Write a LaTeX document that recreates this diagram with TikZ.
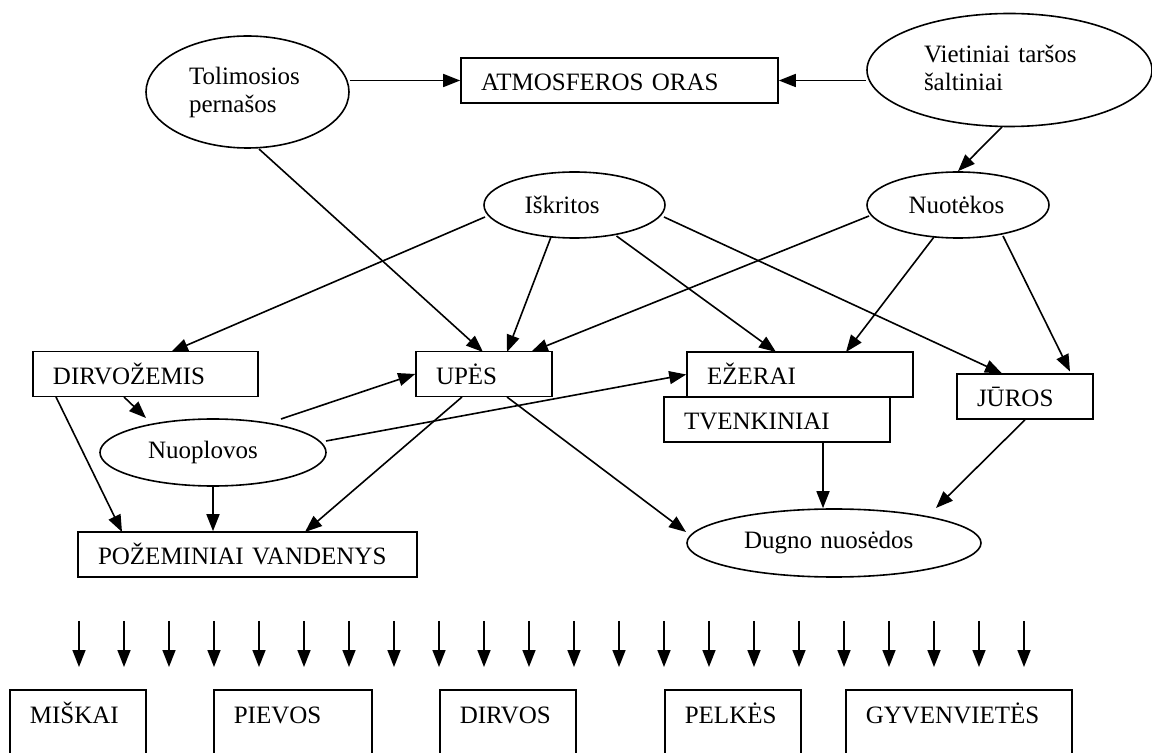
\documentclass[tikz,border=0pt]{standalone}
\usepackage{fontspec}
\setmainfont{Liberation Serif}
\usetikzlibrary{arrows.meta,calc,shapes.geometric}
\begin{document}
\begin{tikzpicture}[x=0.5pt,y=-0.5pt,
  font=\fontsize{12.5}{14}\selectfont,
  arr/.style={line width=0.8pt,-{Triangle[length=8.5pt,width=6.5pt]}},
  box/.style={draw,line width=0.8pt,rectangle,inner xsep=10pt,inner ysep=0pt,
    text height=12pt,text depth=1.5pt,align=left,minimum height=22.5pt},
  ell/.style={draw,line width=0.8pt,ellipse,inner sep=0pt,align=left},
  ground/.style={draw,line width=0.8pt,rectangle,inner xsep=10pt,inner ysep=0pt,
    text height=12pt,text depth=23.5pt,align=left,minimum height=45.5pt,anchor=north west}
]
\useasboundingbox (0,0) rectangle (1152,753);
\clip (0,0) rectangle (1152,753);

% ellipses
\node[ell,minimum width=101.5pt,minimum height=56pt,text width=58.5pt] (tol) at (247.5,92) {Tolimosios\\pernašos};
\node[ell,minimum width=142.5pt,minimum height=56.5pt,text width=85.5pt] (viet) at (1009.5,70) {Vietiniai taršos\\šaltiniai\vphantom{p}};
\node[ell,minimum width=90.5pt,minimum height=33pt,text width=50pt] (isk) at (574.5,205) {Iškritos};
\node[ell,minimum width=91pt,minimum height=33pt,text width=49.5pt] (nuot) at (958,205) {Nuotėkos};
\node[ell,minimum width=113pt,minimum height=33.5pt,text width=65pt] (nuopl) at (213,452.5) {Nuoplovos};
\node[ell,minimum width=147pt,minimum height=34pt,text width=90pt] (dug) at (834,543) {Dugno nuosėdos};

% boxes
\node[box,text width=138.5pt] (atm) at (619.5,80.5) {ATMOSFEROS ORAS};
\node[box,text width=92.5pt] (dirv) at (145.5,374) {DIRVOŽEMIS};
\node[box,text width=48pt] (upes) at (484,374) {UPĖS};
\node[box,text width=93pt] (ez) at (800,374.5) {EŽERAI};
\node[box,text width=93pt] (tv) at (777,419.5) {TVENKINIAI};
\node[box,text width=48pt] (jur) at (1025,396.5) {JŪROS};
\node[box,text width=149.5pt] (poz) at (247.5,554.5) {POŽEMINIAI VANDENYS};

% bottom boxes
\node[ground,text width=48pt] (mis) at (9,689) {MIŠKAI};
\node[ground,text width=59pt] (piev) at (213,689) {PIEVOS};
\node[ground,text width=48pt] (dirvos) at (439,689) {DIRVOS};
\node[ground,text width=48pt] (pelk) at (664,689) {PELKĖS};
\node[ground,text width=93pt] (gyv) at (845,689) {GYVENVIETĖS};

% connectors
\draw[arr] (tol.east |- atm.west) -- (atm.west);
\draw[arr] (viet.west |- atm.east) -- (atm.east);
\draw[arr] ($(viet)+(-7.5,57)$) -- (nuot.north);
\draw[arr] ($(tol)+(11.5,57)$) -- ($(upes)+(-1,-22)$);
\draw[arr] ($(isk)+(-89.5,12)$) -- ($(dirv)+(25.5,-22)$);
\draw[arr] ($(isk)+(-23.5,32)$) -- ($(upes)+(23,-22)$);
\draw[arr] ($(isk)+(42,31)$) -- ($(ez)+(-24,-22.5)$);
\draw[arr] ($(isk)+(89.5,12)$) -- ($(jur)+(-23,-23)$);
\draw[arr] ($(nuot)+(-89,11)$) -- ($(upes)+(47,-22)$);
\draw[arr] ($(nuot)+(-24,32)$) -- ($(ez)+(46,-22.5)$);
\draw[arr] ($(nuot)+(45,31)$) -- ($(jur)+(45,-25)$);
\draw[arr] ($(dirv)+(-21.5,23)$) -- ($(nuopl)+(-67,-34.5)$);
\draw[arr] ($(dirv)+(-89.5,23)$) -- ($(poz)+(-125.5,-22.5)$);
\draw[arr] ($(nuopl)+(68,-33.5)$) -- (upes.west);
\draw[arr] ($(nuopl)+(113,-11.5)$) -- (ez.west);
\draw[arr] (nuopl.south) -- (nuopl.south |- poz.north);
\draw[arr] ($(upes)+(-22,23)$) -- ($(poz)+(57.5,-22.5)$);
\draw[arr] ($(upes)+(23,23)$) -- ($(dug)+(-148,-11)$);
\coordinate (tvs) at ($(tv)+(46,22.5)$);
\draw[arr] (tvs) -- (tvs |- dug.north);
\draw[arr] (jur.south) -- ($(dug)+(102,-35)$);

% bottom arrows
\foreach \i in {0,...,21}{
  \coordinate (s\i) at ({79+45*\i},621);
  \coordinate (e\i) at ({79+45*\i},667);
  \draw[arr] (s\i) -- (e\i);
}
\end{tikzpicture}
\end{document}
